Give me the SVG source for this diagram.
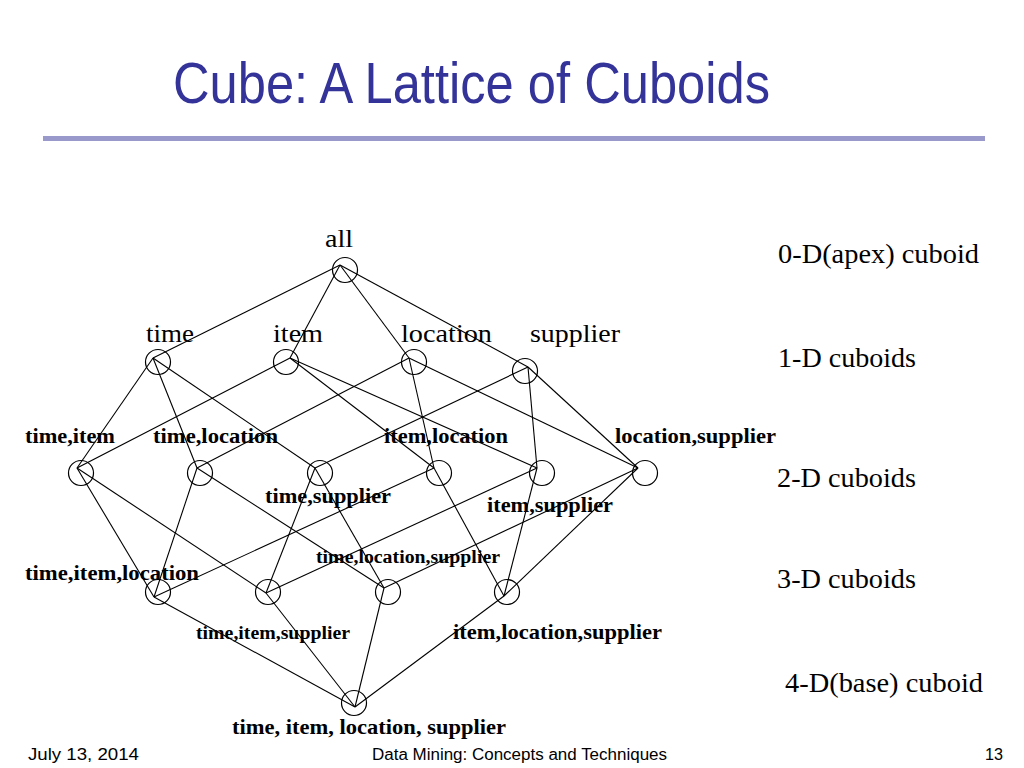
<svg xmlns="http://www.w3.org/2000/svg" width="1024" height="768" viewBox="0 0 1024 768">
<style>
.title{font-family:"Liberation Sans",Arial,sans-serif;font-size:58px;fill:#333399}
.foot{font-family:"Liberation Sans",Arial,sans-serif;font-size:16px;fill:#000}
.lab{font-family:"Liberation Serif","Times New Roman",serif;font-size:26px;fill:#000}
.lvl{font-family:"Liberation Serif","Times New Roman",serif;font-size:27px;fill:#000}
.b{font-family:"Liberation Serif","Times New Roman",serif;font-size:21px;font-weight:bold;fill:#000}
.bs{font-family:"Liberation Serif","Times New Roman",serif;font-size:18px;font-weight:bold;fill:#000}
circle{fill:none;stroke:#000;stroke-width:1.2}
#edges line{stroke:#000;stroke-width:1.1}
</style>
<rect width="1024" height="768" fill="#fff"/>
<text class="title" x="173" y="103" textLength="597" lengthAdjust="spacingAndGlyphs">Cube: A Lattice of Cuboids</text>
<rect x="43" y="136" width="942" height="5" fill="#9999cc"/>

<g id="edges">
<line x1="340" y1="265" x2="153" y2="358"/>
<line x1="340" y1="265" x2="290" y2="358"/>
<line x1="340" y1="265" x2="409" y2="358"/>
<line x1="340" y1="265" x2="528" y2="367"/>
<line x1="153" y1="358" x2="77" y2="468"/>
<line x1="153" y1="358" x2="197" y2="468"/>
<line x1="153" y1="358" x2="315" y2="468"/>
<line x1="290" y1="358" x2="77" y2="468"/>
<line x1="290" y1="358" x2="434" y2="468"/>
<line x1="290" y1="358" x2="537" y2="468"/>
<line x1="409" y1="358" x2="197" y2="468"/>
<line x1="409" y1="358" x2="434" y2="468"/>
<line x1="409" y1="358" x2="638" y2="468"/>
<line x1="528" y1="367" x2="315" y2="468"/>
<line x1="528" y1="367" x2="537" y2="468"/>
<line x1="528" y1="367" x2="638" y2="468"/>
<line x1="77" y1="468" x2="154" y2="597"/>
<line x1="77" y1="468" x2="266" y2="593"/>
<line x1="197" y1="468" x2="154" y2="597"/>
<line x1="197" y1="468" x2="384" y2="588"/>
<line x1="315" y1="468" x2="266" y2="593"/>
<line x1="315" y1="468" x2="384" y2="588"/>
<line x1="434" y1="468" x2="154" y2="597"/>
<line x1="434" y1="468" x2="504" y2="596"/>
<line x1="537" y1="468" x2="266" y2="593"/>
<line x1="537" y1="468" x2="504" y2="596"/>
<line x1="638" y1="468" x2="384" y2="588"/>
<line x1="638" y1="468" x2="504" y2="596"/>
<line x1="154" y1="597" x2="355" y2="707"/>
<line x1="266" y1="593" x2="355" y2="707"/>
<line x1="384" y1="588" x2="355" y2="707"/>
<line x1="504" y1="596" x2="355" y2="707"/>
</g>

<g id="n-all"><circle cx="345" cy="270" r="12.5"/><text class="lab" x="325" y="247" textLength="28" lengthAdjust="spacingAndGlyphs">all</text></g>
<g id="n-time"><circle cx="158" cy="362" r="12.5"/><text class="lab" x="146" y="342" textLength="48" lengthAdjust="spacingAndGlyphs">time</text></g>
<g id="n-item"><circle cx="286" cy="362" r="12.5"/><text class="lab" x="273" y="342" textLength="50" lengthAdjust="spacingAndGlyphs">item</text></g>
<g id="n-location"><circle cx="414" cy="362" r="12.5"/><text class="lab" x="401" y="342" textLength="91" lengthAdjust="spacingAndGlyphs">location</text></g>
<g id="n-supplier"><circle cx="525" cy="371" r="12.5"/><text class="lab" x="530" y="342" textLength="90" lengthAdjust="spacingAndGlyphs">supplier</text></g>

<g id="n-ti"><circle cx="81" cy="473" r="12.5"/><text class="b" x="25" y="443" textLength="90" lengthAdjust="spacingAndGlyphs">time,item</text></g>
<g id="n-tl"><circle cx="200" cy="473" r="12.5"/><text class="b" x="153" y="443" textLength="125" lengthAdjust="spacingAndGlyphs">time,location</text></g>
<g id="n-ts"><circle cx="320" cy="473" r="12.5"/><text class="b" x="265" y="503" textLength="126" lengthAdjust="spacingAndGlyphs">time,supplier</text></g>
<g id="n-il"><circle cx="439" cy="473" r="12.5"/><text class="b" x="384" y="443" textLength="124" lengthAdjust="spacingAndGlyphs">item,location</text></g>
<g id="n-is"><circle cx="542" cy="473" r="12.5"/><text class="b" x="487" y="512" textLength="126" lengthAdjust="spacingAndGlyphs">item,supplier</text></g>
<g id="n-ls"><circle cx="645" cy="473" r="12.5"/><text class="b" x="615" y="443" textLength="161" lengthAdjust="spacingAndGlyphs">location,supplier</text></g>

<g id="n-til"><circle cx="158" cy="592" r="12.5"/><text class="b" x="25" y="580" textLength="174" lengthAdjust="spacingAndGlyphs">time,item,location</text></g>
<g id="n-tis"><circle cx="268" cy="592" r="12.5"/><text class="bs" x="196" y="639" textLength="154" lengthAdjust="spacingAndGlyphs">time,item,supplier</text></g>
<g id="n-tls"><circle cx="388" cy="592" r="12.5"/><text class="bs" x="316" y="563" textLength="184" lengthAdjust="spacingAndGlyphs">time,location,supplier</text></g>
<g id="n-ils"><circle cx="507" cy="592" r="12.5"/><text class="b" x="453" y="639" textLength="209" lengthAdjust="spacingAndGlyphs">item,location,supplier</text></g>

<g id="n-base"><circle cx="354" cy="703" r="12.5"/><text class="b" x="232" y="734" textLength="274" lengthAdjust="spacingAndGlyphs">time, item, location, supplier</text></g>

<g id="levels">
<text class="lvl" x="778" y="263" textLength="201" lengthAdjust="spacingAndGlyphs">0-D(apex) cuboid</text>
<text class="lvl" x="778" y="367" textLength="138" lengthAdjust="spacingAndGlyphs">1-D cuboids</text>
<text class="lvl" x="777" y="487" textLength="139" lengthAdjust="spacingAndGlyphs">2-D cuboids</text>
<text class="lvl" x="777" y="588" textLength="139" lengthAdjust="spacingAndGlyphs">3-D cuboids</text>
<text class="lvl" x="785" y="692" textLength="198" lengthAdjust="spacingAndGlyphs">4-D(base) cuboid</text>
</g>

<g id="footer">
<text class="foot" x="28" y="760" textLength="111" lengthAdjust="spacingAndGlyphs">July 13, 2014</text>
<text class="foot" x="372" y="760" textLength="295" lengthAdjust="spacingAndGlyphs">Data Mining: Concepts and Techniques</text>
<text class="foot" x="985" y="760" textLength="18" lengthAdjust="spacingAndGlyphs">13</text>
</g>
</svg>
